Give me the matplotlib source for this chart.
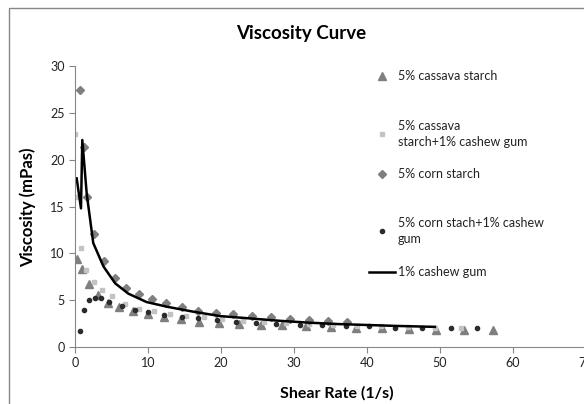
import matplotlib
matplotlib.use("Agg")
import matplotlib.pyplot as plt
from matplotlib.lines import Line2D
from matplotlib.patches import Rectangle

plt.rcParams['font.family'] = ['Lato', 'DejaVu Sans']

# 5% cassava starch
cas_x = [0.26, 1.0, 1.9, 3.1, 4.5, 6.0, 8.0, 10.0, 12.2, 14.5, 17.0, 19.7, 22.4,
         25.5, 28.4, 31.7, 35.1, 38.5, 42.0, 45.7, 49.4, 53.3, 57.2]
cas_y = [9.4, 8.3, 6.7, 5.6, 4.75, 4.3, 3.85, 3.5, 3.2, 3.0, 2.7, 2.6, 2.5,
         2.4, 2.3, 2.2, 2.15, 2.05, 2.0, 1.95, 1.85, 1.85, 1.85]

# 5% cassava starch + 1% cashew gum
cascg_x = [0.0, 0.1, 0.87, 1.5, 2.6, 3.7, 5.1, 6.8, 8.7, 10.8, 13.0, 15.2, 17.7,
           20.2, 23.0, 25.9, 28.9, 32.1, 35.3, 38.6, 41.9, 45.6, 49.3, 52.9]
cascg_y = [22.7, 16.0, 10.6, 8.2, 6.9, 6.1, 5.4, 4.6, 4.1, 3.85, 3.5, 3.3, 3.15,
           3.0, 2.8, 2.65, 2.55, 2.45, 2.4, 2.25, 2.2, 2.15, 2.05, 2.0]

# 5% corn starch
corn_x = [0.7, 1.2, 1.7, 2.6, 4.0, 5.5, 7.0, 8.7, 10.5, 12.5, 14.6, 16.9, 19.3,
          21.7, 24.3, 26.9, 29.5, 32.0, 34.6, 37.2]
corn_y = [27.4, 21.3, 16.0, 12.1, 9.2, 7.35, 6.35, 5.7, 5.1, 4.65, 4.3, 3.85, 3.6,
          3.5, 3.3, 3.2, 3.0, 2.9, 2.8, 2.7]

# 5% corn stach + 1% cashew gum
corncg_x = [0.7, 1.3, 1.9, 2.7, 3.5, 4.7, 6.4, 8.2, 10.0, 12.2, 14.6, 16.9, 19.4,
            22.0, 24.8, 27.6, 30.8, 33.9, 37.1, 40.3, 43.8, 47.6, 51.5, 55.0]
corncg_y = [1.7, 4.0, 5.0, 5.2, 5.2, 4.85, 4.4, 3.9, 3.7, 3.45, 3.15, 3.05, 2.9,
            2.7, 2.55, 2.5, 2.4, 2.3, 2.25, 2.2, 2.05, 2.0, 2.05, 2.0]

# 1% cashew gum
cg_x = [0.23, 0.82, 1.0, 1.6, 2.5, 3.9, 5.5, 7.3, 9.8, 12.6, 16.2, 19.9, 24.0,
        28.0, 32.0, 36.0, 40.0, 44.0, 49.3]
cg_y = [18.0, 14.8, 22.1, 16.4, 11.1, 8.6, 6.8, 5.7, 4.8, 4.3, 3.77, 3.3, 3.05,
        2.8, 2.6, 2.45, 2.35, 2.25, 2.15]

labels = ["5% cassava starch", "5% cassava\nstarch+1% cashew gum", "5% corn starch",
          "5% corn stach+1% cashew\ngum", "1% cashew gum"]

W, H = 584, 404
fig = plt.figure(figsize=(W / 100, H / 100), dpi=100)
edge = "#868686"

# outer chart frame
fig.add_artist(Rectangle((9 / W, -0.1), 1.2, 1 - 8 / H + 0.1, transform=fig.transFigure,
                         fill=False, edgecolor=edge, linewidth=1))

ax = fig.add_axes([75 / W, 1 - 347 / H, 511 / W, (347 - 66) / H])
ax.plot(cas_x, cas_y, linestyle="none", marker="^", markersize=5.5, color="#7f7f7f")
ax.plot(cascg_x, cascg_y, linestyle="none", marker="s", markersize=3.3, color="#c3c3c3")
ax.plot(corn_x, corn_y, linestyle="none", marker="D", markersize=4.3, color="#7f7f7f")
ax.plot(corncg_x, corncg_y, linestyle="none", marker="o", markersize=3, color="#2b2b2b")
ax.plot(cg_x, cg_y, color="black", linewidth=1.8)

ax.set_xlim(0, 70)
ax.set_ylim(0, 30)
ax.set_xticks(range(0, 71, 10))
ax.set_yticks(range(0, 31, 5))
for s in ["top", "right"]:
    ax.spines[s].set_visible(False)
for s in ["left", "bottom"]:
    ax.spines[s].set_color(edge)
ax.tick_params(direction="out", length=4, color=edge, labelsize=9, labelcolor="#222222")
ax.set_facecolor("none")

fig.text(301 / W, 1 - 33 / H, "Viscosity Curve", ha="center", va="center",
         fontsize=13.5, fontweight="bold")
fig.text(28 / W, 1 - 207 / H, "Viscosity (mPas)", ha="center", va="center",
         rotation=90, fontsize=12, fontweight="bold")
fig.text(337 / W, 1 - 393 / H, "Shear Rate (1/s)", ha="center", va="center",
         fontsize=11.5, fontweight="bold")

# legend, drawn by hand to follow the original spacing
rows = [76, 134, 174, 231, 272]
styles = [("^", 5.5, "#7f7f7f"), ("s", 3.3, "#c3c3c3"), ("D", 4.3, "#7f7f7f"),
          ("o", 3, "#2b2b2b")]
for i, (m, ms, c) in enumerate(styles):
    yy = 1 - rows[i] / H
    fig.add_artist(Line2D([382 / W], [yy], marker=m, markersize=ms, color=c,
                          linestyle="none", transform=fig.transFigure))
yy = 1 - rows[4] / H
fig.add_artist(Line2D([369 / W, 395 / W], [yy, yy], color="black", linewidth=1.8,
                      transform=fig.transFigure))
for i, lab in enumerate(labels):
    fig.text(398 / W, 1 - rows[i] / H, lab, ha="left", va="center", fontsize=9,
             color="#222222", linespacing=1.45)

fig.savefig("out.png", dpi=100)
